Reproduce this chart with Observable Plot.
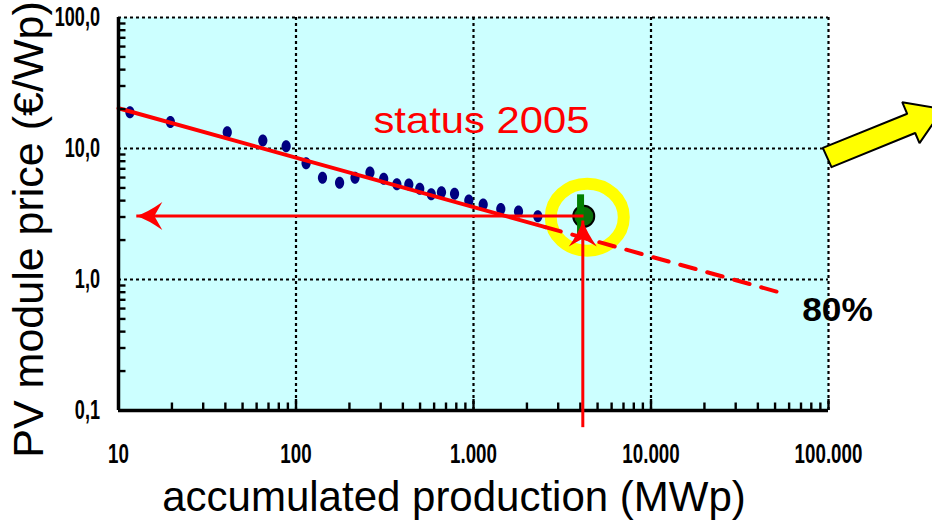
<!DOCTYPE html>
<html><head><meta charset="utf-8">
<script src="https://cdn.jsdelivr.net/npm/d3@7"></script>
<script src="https://cdn.jsdelivr.net/npm/@observablehq/plot@0.6"></script>
<style>body{margin:0;background:#fff}</style>
</head><body><div id="chart"></div>
<script>
// ---- data ----
const production = [11.6, 19.6, 41, 65, 88, 114, 141, 176, 215, 261, 312, 370, 432, 498, 578, 660, 782, 941, 1134, 1425, 1793, 2303];
const price      = [18.9, 15.9, 13.3, 11.5, 10.4, 7.72, 5.97, 5.47, 5.97, 6.56, 5.87, 5.34, 5.31, 4.92, 4.48, 4.64, 4.51, 4.01, 3.74, 3.46, 3.30, 3.04];
const status2005X = [4180];
const status2005Y = [3.04];
const status2005BarX = [4010];
const status2005BarLow = [2.17];
const status2005BarHigh = [4.43];
const ringX = [4375];
const ringY = [2.99];
const fitSolidX = [10, 2540];
const fitSolidY = [20.3, 2.51];
const fitDashedX = [2540, 52500];
const fitDashedY = [2.51, 0.80];
const hArrowFromX = [4167], hArrowToX = [12.6], hArrowY = [3.05];
const vArrowX = [4129], vArrowFromY = [0.0746], vArrowToY = [2.82];
const blockArrowX = [103970, 92890, 277600, 260200, 442200, 325600, 307900, 103970];
const blockArrowY = [7.20, 10.12, 18.41, 22.56, 20.0, 10.98, 13.13, 7.20];
const xTicks = [10, 100, 1000, 10000, 100000];
const xTickLabels = ["10", "100", "1.000", "10.000", "100.000"];
const yTicks = [0.1, 1, 10, 100];
const yTickLabels = ["0,1", "1,0", "10,0", "100,0"];
const xGrid = [100, 1000, 10000, 100000];
const yGrid = [1, 10, 100];
const minorMult = [2, 3, 4, 5, 6, 7, 8, 9];
const xDecades = [10, 100, 1000, 10000];
const yDecades = [0.1, 1, 10];
const xMinor = xDecades.flatMap(d => minorMult.map(m => d * m));
const yMinor = yDecades.flatMap(d => minorMult.map(m => d * m));
const statusLabel = ["status 2005"], statusX = [1109], statusY = [16.07];
const pctLabel = ["80%"], pctX = [112400], pctY = [0.58];
const xTitle = "accumulated production (MWp)";
const yTitle = "PV module price (€/Wp)";

// ---- symbols ----
function ellipse(rx, ry) {
  const k = 0.5523;
  return {draw(c) {
    c.moveTo(rx, 0);
    c.bezierCurveTo(rx, ry * k, rx * k, ry, 0, ry);
    c.bezierCurveTo(-rx * k, ry, -rx, ry * k, -rx, 0);
    c.bezierCurveTo(-rx, -ry * k, -rx * k, -ry, 0, -ry);
    c.bezierCurveTo(rx * k, -ry, rx, -ry * k, rx, 0);
    c.closePath();
  }};
}
const headUp = {draw(c) {
  c.moveTo(0, 0); c.quadraticCurveTo(-4, 12, -14, 26); c.lineTo(0, 18);
  c.lineTo(14, 26); c.quadraticCurveTo(4, 12, 0, 0); c.closePath();
}};
const headLeft = {draw(c) {
  c.moveTo(0, 0); c.quadraticCurveTo(12, -4, 26, -14); c.lineTo(18, 0);
  c.lineTo(26, 14); c.quadraticCurveTo(12, 4, 0, 0); c.closePath();
}};

const FONT = "Liberation Sans, Arial, Helvetica, sans-serif";
const red = "#ff0000";
// tick-mark lengths, expressed as log-scale factors (≈7.5 px and 11 px inside the frame)
const xTickFactor = Math.pow(10, 7.5 / 131), xMajorFactor = Math.pow(10, 11 / 131);
const yTickFactor = Math.pow(10, 7.5 / 177.5);

const chart = Plot.plot({
  width: 932, height: 523,
  marginLeft: 118, marginRight: 104, marginTop: 17, marginBottom: 113,
  style: {background: "#ffffff", fontFamily: FONT, overflow: "visible"},
  x: {type: "log", domain: [10, 100000], axis: null, nice: false},
  y: {type: "log", domain: [0.1, 100], axis: null, nice: false},
  marks: [
    Plot.frame({fill: "#ccffff", stroke: "none"}),
    Plot.ruleX(xGrid, {x: d => d, stroke: "#000", strokeWidth: 2.2, strokeDasharray: "3,3"}),
    Plot.ruleY(yGrid, {y: d => d, stroke: "#000", strokeWidth: 2.2, strokeDasharray: "3,3"}),
    // yellow ring
    Plot.dot(ringX, {x: ringX, y: ringY, symbol: ellipse(36.5, 33.5), fill: "none", stroke: "#ffff00", strokeWidth: 12}),
    // data points
    Plot.dot(production, {x: production, y: price, symbol: ellipse(4.6, 6), fill: "#000080", stroke: "none"}),
    // fitted learning curve
    Plot.line(fitSolidX, {x: fitSolidX, y: fitSolidY, stroke: red, strokeWidth: 4}),
    Plot.line(fitDashedX, {x: fitDashedX, y: fitDashedY, stroke: red, strokeWidth: 4, strokeDasharray: "16,12"}),
    // status 2005 point
    Plot.dot(status2005X, {x: status2005X, y: status2005Y, r: 10.5, fill: "#0a700a", stroke: "#000", strokeWidth: 2}),
    Plot.ruleX(status2005BarX, {x: status2005BarX, y1: status2005BarLow, y2: status2005BarHigh, stroke: "#008000", strokeWidth: 7}),
    // annotations
    Plot.text(statusLabel, {x: statusX, y: statusY, text: d => d, fill: red, fontSize: 37, textAnchor: "middle", lineAnchor: "middle"}),
    Plot.text(pctLabel, {x: pctX, y: pctY, text: d => d, fill: "#000", fontSize: 33, fontWeight: "bold", textAnchor: "middle", lineAnchor: "middle"}),
    // tick labels
    Plot.text(xTickLabels, {x: xTicks, frameAnchor: "bottom", text: d => d, dy: 43.7, fontSize: 28, fontWeight: "bold", textAnchor: "middle", lineAnchor: "middle", fill: "#000"}),
    Plot.text(yTickLabels, {y: yTicks, frameAnchor: "left", text: d => d, dx: -18.5, fontSize: 27, fontWeight: "bold", textAnchor: "end", lineAnchor: "middle", fill: "#000"}),
    // axis titles
    Plot.text([xTitle], {frameAnchor: "bottom", text: d => d, dx: -19.5, dy: 87, fontSize: 42, textAnchor: "middle", lineAnchor: "middle", fill: "#000"}),
    Plot.text([yTitle], {frameAnchor: "left", text: d => d, rotate: -90, dx: -89, dy: 15.5, fontSize: 43, textAnchor: "middle", lineAnchor: "middle", fill: "#000"}),
    // yellow block arrow
    Plot.line(blockArrowX, {x: blockArrowX, y: blockArrowY, fill: "#ffff00", stroke: "#000", strokeWidth: 2, strokeLinejoin: "miter"}),
    // axes and tick marks
    Plot.ruleX([10], {x: d => d, stroke: "#000", strokeWidth: 3.5}),
    Plot.ruleY([0.1], {y: d => d, stroke: "#000", strokeWidth: 3.5}),
    Plot.ruleY(yMinor, {y: d => d, x1: () => 10, x2: () => 10 * yTickFactor, stroke: "#000", strokeWidth: 2.4}),
    Plot.ruleX(xMinor, {x: d => d, y1: () => 0.1, y2: () => 0.1 * xTickFactor, stroke: "#000", strokeWidth: 2.4}),
    Plot.ruleX(xGrid, {x: d => d, y1: () => 0.1, y2: () => 0.1 * xMajorFactor, stroke: "#000", strokeWidth: 2.4}),
    // red arrows
    Plot.link(hArrowY, {x1: hArrowFromX, x2: hArrowToX, y1: hArrowY, y2: hArrowY, stroke: red, strokeWidth: 3}),
    Plot.dot(hArrowY, {x: hArrowToX, y: hArrowY, symbol: headLeft, fill: red, stroke: "none"}),
    Plot.link(vArrowX, {x1: vArrowX, x2: vArrowX, y1: vArrowFromY, y2: vArrowToY, stroke: red, strokeWidth: 3}),
    Plot.dot(vArrowX, {x: vArrowX, y: vArrowToY, symbol: headUp, fill: red, stroke: "none"})
  ]
});
document.getElementById("chart").appendChild(chart);

// horizontal condensing / stretching of some labels, as in the original
const scaleMap = new Map([
  ...xTickLabels.map(t => [t, 0.67]),
  ...yTickLabels.map(t => [t, 0.67]),
  [statusLabel[0], 1.13],
  [pctLabel[0], 1.07]
]);
chart.querySelectorAll("text").forEach(t => {
  const s = scaleMap.get(t.textContent);
  if (!s) return;
  const tr = t.getAttribute("transform");
  if (tr) t.setAttribute("transform", tr + ` scale(${s},1)`);
  else {
    const x = +t.getAttribute("x") || 0, y = +t.getAttribute("y") || 0;
    t.removeAttribute("x"); t.removeAttribute("y");
    t.setAttribute("transform", `translate(${x},${y}) scale(${s},1)`);
  }
});
</script>
</body></html>
